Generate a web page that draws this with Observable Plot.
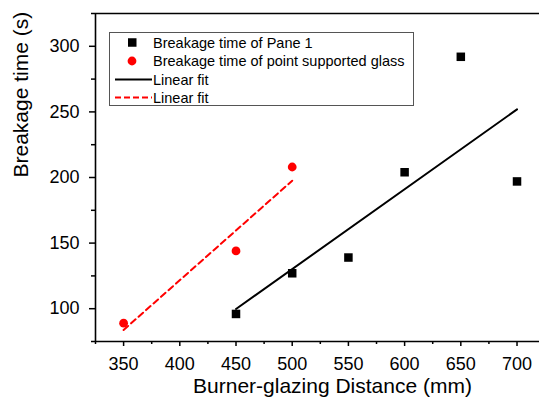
<!DOCTYPE html>
<html>
<head>
<meta charset="utf-8">
<script src="https://cdn.jsdelivr.net/npm/d3@7"></script>
<script src="https://cdn.jsdelivr.net/npm/@observablehq/plot@0.6"></script>
<style>
  html, body { margin: 0; padding: 0; background: #fff; }
  #wrap { position: relative; width: 539px; height: 403px; font-family: "Liberation Sans", Arial, sans-serif; }
  #legend { position: absolute; left: 0; top: 0; pointer-events: none; }
</style>
</head>
<body>
<div id="wrap"></div>
<script>
// Data
const paneDistance = [450, 500, 550, 600, 650, 700];
const paneTime     = [96, 127, 139, 204, 292, 197];
const pointDistance = [350, 450, 500];
const pointTime     = [89, 144, 208];

const xMajorTicks = [350, 400, 450, 500, 550, 600, 650, 700];
const xMinorTicks = [325, 375, 425, 475, 525, 575, 625, 675];
const yMajorTicks = [100, 150, 200, 250, 300];
const yMinorTicks = [75, 125, 175, 225, 275, 325];

const xTitle = "Burner-glazing Distance (mm)";
const yTitle = "Breakage time (s)";
const legendLabels = ["Breakage time of Pane 1", "Breakage time of point supported glass", "Linear fit", "Linear fit"];

const pane = paneDistance.map((d, i) => ({distance: d, time: paneTime[i]}));
const point = pointDistance.map((d, i) => ({distance: d, time: pointTime[i]}));

const xDomain = [325, 720];
const yDomain = [75, 325];

const chart = Plot.plot({
  width: 539,
  height: 403,
  marginLeft: 95,
  marginRight: 0,
  marginTop: 13,
  marginBottom: 62,
  x: {domain: xDomain},
  y: {domain: yDomain},
  style: {fontFamily: "'Liberation Sans', Arial, sans-serif", fontSize: "18px", background: "white", color: "black"},
  marks: [
    Plot.axisX(xMajorTicks, {tickSize: 5, tickPadding: 11, strokeWidth: 1.5, label: null, fontSize: 18}),
    Plot.axisX(xMinorTicks, {tickSize: 3, strokeWidth: 1.5, fill: "none", label: null}),
    Plot.axisY(yMajorTicks, {tickSize: 6, tickPadding: 10, strokeWidth: 1.5, label: null, fontSize: 18}),
    Plot.axisY(yMinorTicks, {tickSize: 4, strokeWidth: 1.5, fill: "none", label: null}),
    Plot.ruleX([xDomain[0]], {stroke: "black", strokeWidth: 1.6}),
    Plot.ruleY([yDomain[0]], {stroke: "black", strokeWidth: 1.6}),
    Plot.ruleY([yDomain[1]], {stroke: "black", strokeWidth: 1.6}),
    Plot.linearRegressionY(pane, {x: "distance", y: "time", stroke: "black", strokeWidth: 2, ci: 0}),
    Plot.linearRegressionY(point, {x: "distance", y: "time", stroke: "#ff0000", strokeWidth: 2, strokeDasharray: "6,4", ci: 0}),
    Plot.dot(pane, {x: "distance", y: "time", symbol: "square", r: 4.8, fill: "black", stroke: "none"}),
    Plot.dot(point, {x: "distance", y: "time", r: 4.4, fill: "#ff0000", stroke: "none"}),
    Plot.text([xTitle], {frameAnchor: "bottom", dy: 51, dx: 15, fontSize: 21, fill: "black"}),
    Plot.text([yTitle], {frameAnchor: "left", rotate: -90, dx: -74, fontSize: 21, fill: "black"})
  ]
});

const wrap = document.getElementById("wrap");
wrap.appendChild(chart);

// Legend (overlay)
const leg = d3.select(wrap).append("svg")
  .attr("id", "legend")
  .attr("width", 539).attr("height", 403);
leg.append("rect")
  .attr("x", 109.5).attr("y", 32.5).attr("width", 304).attr("height", 73)
  .attr("fill", "white").attr("stroke", "#555").attr("stroke-width", 1);
const rowY = [42.5, 61, 79.5, 97.5];
const g = leg.append("g");
g.append("rect").attr("x", 128).attr("y", rowY[0] - 4.25).attr("width", 8.5).attr("height", 8.5).attr("fill", "black");
g.append("circle").attr("cx", 132).attr("cy", rowY[1]).attr("r", 4.4).attr("fill", "#ff0000");
g.append("line").attr("x1", 115).attr("x2", 152).attr("y1", rowY[2]).attr("y2", rowY[2]).attr("stroke", "black").attr("stroke-width", 2);
g.append("line").attr("x1", 115).attr("x2", 152).attr("y1", rowY[3]).attr("y2", rowY[3]).attr("stroke", "#ff0000").attr("stroke-width", 2).attr("stroke-dasharray", "6,3");
legendLabels.forEach((t, i) => {
  g.append("text").attr("x", 153).attr("y", rowY[i]).attr("dy", "0.35em")
    .attr("font-family", "'Liberation Sans', Arial, sans-serif").attr("font-size", 14.5)
    .attr("fill", "black").text(t);
});
</script>
</body>
</html>
